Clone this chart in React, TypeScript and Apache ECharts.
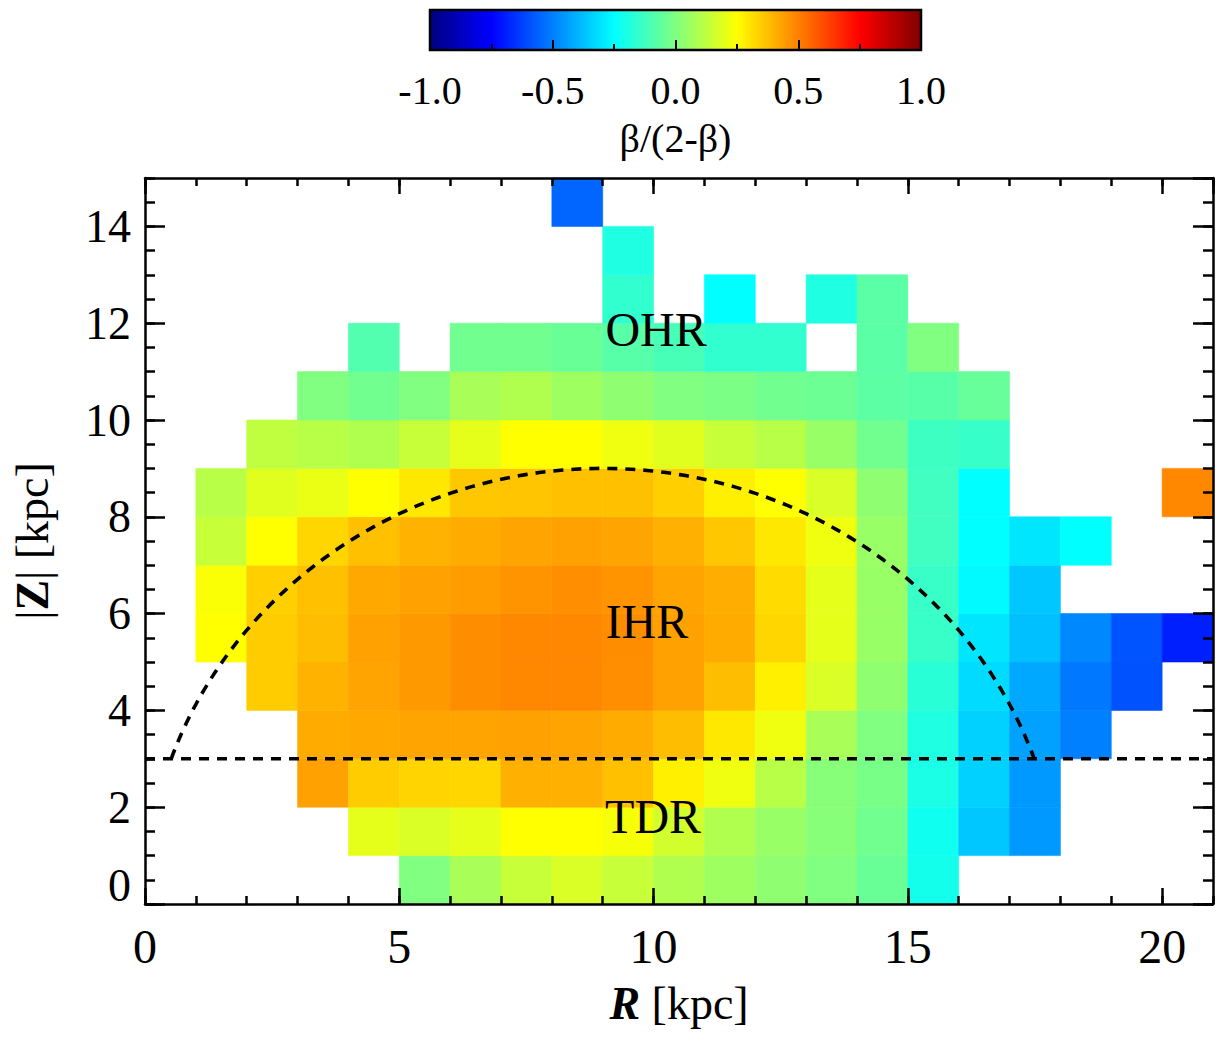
import React, { useEffect, useRef } from "react";
import * as echarts from "echarts";

// ---------- data ----------
// left edges of the 1-kpc R bins and bottom edges of the 1-kpc |Z| bins
const R_BIN_LEFT = [0, 1, 2, 3, 4, 5, 6, 7, 8, 9, 10, 11, 12, 13, 14, 15, 16, 17, 18, 19, 20];
const Z_BIN_BOTTOM = [0, 1, 2, 3, 4, 5, 6, 7, 8, 9, 10, 11, 12, 13, 14];
const BIN = 1;
const _ = null;

// beta/(2-beta) per R bin (21 columns), one array per |Z| row
const ROW_Z0 = [_, _, _, _, _, 0.0, 0.08, 0.14, 0.175, 0.14, 0.095, 0.06, 0.03, 0.0, -0.045, -0.21, _, _, _, _, _];
const ROW_Z1 = [_, _, _, _, 0.2, 0.175, 0.2, 0.25, 0.25, 0.235, 0.16, 0.095, 0.05, 0.015, -0.03, -0.22, -0.36, -0.45, _, _, _];
const ROW_Z2 = [_, _, _, 0.435, 0.35, 0.335, 0.33, 0.405, 0.405, 0.375, 0.28, 0.22, 0.11, 0.015, -0.015, -0.2, -0.34, -0.45, _, _, _];
const ROW_Z3 = [_, _, _, 0.415, 0.42, 0.43, 0.43, 0.435, 0.43, 0.415, 0.38, 0.295, 0.22, 0.08, 0.0, -0.19, -0.34, -0.435, -0.5, _, _];
const ROW_Z4 = [_, _, 0.35, 0.4, 0.43, 0.45, 0.475, 0.485, 0.485, 0.47, 0.435, 0.38, 0.28, 0.175, 0.03, -0.17, -0.32, -0.42, -0.515, -0.59, _];
const ROW_Z5 = [_, 0.25, 0.35, 0.38, 0.435, 0.45, 0.475, 0.485, 0.485, 0.475, 0.435, 0.415, 0.33, 0.2, 0.05, -0.14, -0.3, -0.375, -0.485, -0.585, -0.69];
const ROW_Z6 = [_, 0.24, 0.345, 0.375, 0.42, 0.435, 0.445, 0.46, 0.47, 0.46, 0.43, 0.41, 0.32, 0.2, 0.05, -0.14, -0.26, -0.36, _, _, _];
const ROW_Z7 = [_, 0.14, 0.25, 0.33, 0.375, 0.4, 0.415, 0.43, 0.435, 0.43, 0.405, 0.36, 0.295, 0.22, 0.05, -0.125, -0.25, -0.3, -0.25, _, _];
const ROW_Z8 = [_, 0.11, 0.19, 0.21, 0.25, 0.295, 0.36, 0.365, 0.375, 0.375, 0.345, 0.28, 0.25, 0.175, 0.03, -0.125, -0.25, _, _, _, 0.485];
const ROW_Z9 = [_, _, 0.125, 0.11, 0.095, 0.14, 0.2, 0.25, 0.25, 0.22, 0.19, 0.14, 0.11, 0.05, -0.03, -0.13, -0.145, _, _, _, _];
const ROW_Z10 = [_, _, _, 0.0, -0.03, 0.0, 0.08, 0.095, 0.06, 0.03, 0.0, -0.01, -0.03, -0.04, -0.07, -0.08, -0.05, _, _, _, _];
const ROW_Z11 = [_, _, _, _, -0.09, _, -0.03, -0.03, -0.045, -0.08, -0.11, -0.155, -0.155, _, -0.075, 0.0, _, _, _, _, _];
const ROW_Z12 = [_, _, _, _, _, _, _, _, _, -0.155, _, -0.25, _, -0.19, -0.075, _, _, _, _, _, _];
const ROW_Z13 = [_, _, _, _, _, _, _, _, _, -0.19, _, _, _, _, _, _, _, _, _, _, _];
const ROW_Z14 = [_, _, _, _, _, _, _, _, -0.55, _, _, _, _, _, _, _, _, _, _, _, _];
const BETA_ROWS = [ROW_Z0, ROW_Z1, ROW_Z2, ROW_Z3, ROW_Z4, ROW_Z5, ROW_Z6, ROW_Z7, ROW_Z8, ROW_Z9, ROW_Z10, ROW_Z11, ROW_Z12, ROW_Z13, ROW_Z14];

// region boundaries: disk/halo at |Z| = 3 kpc, inner/outer halo circle centred at (R=9, Z=0), radius 9 kpc
const DISK_Z = 3;
const DIVIDE_CENTER_R = 9;
const DIVIDE_RADIUS = 9;

// region labels
const REGION_NAMES = ["OHR", "IHR", "TDR"];
const REGION_R = [10.05, 9.87, 9.99];
const REGION_Z = [11.86, 5.83, 1.8];

// axes
const R_RANGE = [0, 21];
const Z_RANGE = [0, 15];
const CB_RANGE = [-1, 1];

// jet colour table, evenly spaced stops
const JET = ["#000080", "#0000ff", "#0080ff", "#00ffff", "#80ff80", "#ffff00", "#ff8000", "#ff0000", "#800000"];

const FONT = "Liberation Serif";

export default function App() {
  const ref = useRef<HTMLDivElement>(null);
  useEffect(() => {
    if (!ref.current) return;
    const chart = echarts.init(ref.current, null, { renderer: "svg" });

    const cells: number[][] = [];
    BETA_ROWS.forEach((row, j) => {
      row.forEach((v, c) => {
        if (v !== null && v !== undefined) cells.push([R_BIN_LEFT[c], Z_BIN_BOTTOM[j], v as number]);
      });
    });

    const t0 = Math.asin(DISK_Z / DIVIDE_RADIUS);
    const arc: number[][] = [];
    const N = 160;
    for (let i = 0; i <= N; i++) {
      const t = t0 + ((Math.PI - 2 * t0) * i) / N;
      arc.push([DIVIDE_CENTER_R - DIVIDE_RADIUS * Math.cos(t), DIVIDE_RADIUS * Math.sin(t)]);
    }
    const diskLine = [[R_RANGE[0], DISK_Z], [R_RANGE[1], DISK_Z]];
    const labels = REGION_NAMES.map((n, i) => [REGION_R[i], REGION_Z[i], n]);

    const AX = { color: "#000", width: 2.5 };
    const DASH = { color: "#000", width: 3.6, type: [10, 8] };
    const tickAxis = (extra: any) => ({
      type: "value",
      axisLine: { show: false, onZero: false },
      splitLine: { show: false },
      axisLabel: { show: false },
      z: 6,
      ...extra,
    });

    const jetStops = JET.map((c, i) => ({ offset: i / (JET.length - 1), color: c }));

    chart.setOption({
      animation: false,
      backgroundColor: "#fff",
      grid: [
        { left: 145, top: 178, width: 1068, height: 726 },
        { left: 430, top: 10, width: 491, height: 40 },
      ],
      visualMap: {
        type: "continuous",
        show: false,
        min: CB_RANGE[0],
        max: CB_RANGE[1],
        dimension: 2,
        seriesIndex: 0,
        inRange: { color: JET },
      },
      xAxis: [
        {
          type: "value",
          gridIndex: 0,
          position: "bottom",
          min: R_RANGE[0],
          max: R_RANGE[1],
          interval: 5,
          axisLine: { show: true, onZero: false, lineStyle: AX },
          axisTick: { inside: true, length: 16, lineStyle: AX },
          splitLine: { show: false },
          axisLabel: { margin: 18, fontSize: 48, fontFamily: FONT, color: "#000", showMaxLabel: false },
          name: "{bi|R} [kpc]",
          nameLocation: "middle",
          nameGap: 76,
          nameTextStyle: {
            fontSize: 46,
            fontFamily: FONT,
            color: "#000",
            rich: { bi: { fontSize: 46, fontFamily: FONT, fontWeight: "bold", fontStyle: "italic", color: "#000" } },
          },
          z: 6,
        },
        tickAxis({ gridIndex: 0, position: "bottom", min: R_RANGE[0], max: R_RANGE[1], interval: 1, axisTick: { inside: true, length: 8, lineStyle: AX } }),
        {
          type: "value",
          gridIndex: 0,
          position: "top",
          min: R_RANGE[0],
          max: R_RANGE[1],
          interval: 5,
          axisLine: { show: true, onZero: false, lineStyle: AX },
          axisTick: { inside: true, length: 16, lineStyle: AX },
          splitLine: { show: false },
          axisLabel: { show: false },
          z: 6,
        },
        tickAxis({ gridIndex: 0, position: "top", min: R_RANGE[0], max: R_RANGE[1], interval: 1, axisTick: { inside: true, length: 8, lineStyle: AX } }),
        {
          type: "value",
          gridIndex: 1,
          position: "bottom",
          min: CB_RANGE[0],
          max: CB_RANGE[1],
          interval: 0.5,
          axisLine: { show: false, onZero: false },
          axisTick: { inside: true, length: 10, lineStyle: { color: "#000", width: 2 } },
          splitLine: { show: false },
          axisLabel: {
            margin: 20,
            fontSize: 40,
            fontFamily: FONT,
            color: "#000",
            formatter: (v: number) => v.toFixed(1),
          },
          name: "β/(2-β)",
          nameLocation: "middle",
          nameGap: 68,
          nameTextStyle: { fontSize: 40, fontFamily: FONT, color: "#000" },
          z: 6,
        },
        tickAxis({ gridIndex: 1, position: "bottom", min: CB_RANGE[0], max: CB_RANGE[1], interval: 0.25, axisTick: { inside: true, length: 6, lineStyle: { color: "#000", width: 2 } } }),
      ],
      yAxis: [
        {
          type: "value",
          gridIndex: 0,
          position: "left",
          min: Z_RANGE[0],
          max: Z_RANGE[1],
          interval: 2,
          axisLine: { show: true, onZero: false, lineStyle: AX },
          axisTick: { inside: true, length: 20, lineStyle: AX },
          splitLine: { show: false },
          axisLabel: {
            margin: 14,
            fontSize: 46,
            fontFamily: FONT,
            color: "#000",
            showMaxLabel: false,
            formatter: (v: number) => (v === 0 ? "{lift|0}" : String(v)),
            rich: { lift: { fontSize: 46, fontFamily: FONT, color: "#000", padding: [0, 0, 38, 0] } },
          },
          name: "|{b|Z}| [kpc]",
          nameLocation: "middle",
          nameRotate: 90,
          nameGap: 90,
          nameTextStyle: {
            fontSize: 46,
            fontFamily: FONT,
            color: "#000",
            rich: { b: { fontSize: 46, fontFamily: FONT, fontWeight: "bold", color: "#000" } },
          },
          z: 6,
        },
        tickAxis({ gridIndex: 0, position: "left", min: Z_RANGE[0], max: Z_RANGE[1], interval: 0.5, axisTick: { inside: true, length: 10, lineStyle: AX } }),
        {
          type: "value",
          gridIndex: 0,
          position: "right",
          min: Z_RANGE[0],
          max: Z_RANGE[1],
          interval: 2,
          axisLine: { show: true, onZero: false, lineStyle: AX },
          axisTick: { inside: true, length: 20, lineStyle: AX },
          splitLine: { show: false },
          axisLabel: { show: false },
          z: 6,
        },
        tickAxis({ gridIndex: 0, position: "right", min: Z_RANGE[0], max: Z_RANGE[1], interval: 0.5, axisTick: { inside: true, length: 10, lineStyle: AX } }),
        { type: "value", gridIndex: 1, min: 0, max: 1, show: false },
      ],
      series: [
        {
          type: "custom",
          name: "beta",
          xAxisIndex: 0,
          yAxisIndex: 0,
          dimensions: ["R", "Z", "beta"],
          encode: { x: 0, y: 1 },
          data: cells,
          z: 2,
          renderItem: (params: any, api: any) => {
            const r0 = api.value(0);
            const z0 = api.value(1);
            const p0 = api.coord([r0, z0 + BIN]);
            const p1 = api.coord([r0 + BIN, z0]);
            const color = api.visual("color");
            return {
              type: "rect",
              shape: { x: p0[0], y: p0[1], width: p1[0] - p0[0], height: p1[1] - p0[1] },
              style: { fill: color, stroke: color, lineWidth: 0.6 },
            };
          },
        },
        {
          type: "line",
          xAxisIndex: 0,
          yAxisIndex: 0,
          data: arc,
          symbol: "none",
          lineStyle: DASH,
          z: 4,
        },
        {
          type: "line",
          xAxisIndex: 0,
          yAxisIndex: 0,
          data: diskLine,
          symbol: "none",
          lineStyle: DASH,
          z: 4,
        },
        {
          type: "custom",
          xAxisIndex: 0,
          yAxisIndex: 0,
          data: labels,
          z: 5,
          renderItem: (params: any, api: any) => {
            const p = api.coord([api.value(0), api.value(1)]);
            return {
              type: "text",
              x: p[0],
              y: p[1],
              style: {
                text: labels[params.dataIndex][2],
                fontSize: 48,
                fontFamily: FONT,
                fill: "#000",
                align: "center",
                verticalAlign: "middle",
              },
            };
          },
        },
        {
          type: "custom",
          xAxisIndex: 4,
          yAxisIndex: 4,
          data: [[CB_RANGE[0], CB_RANGE[1]]],
          z: 2,
          renderItem: (params: any, api: any) => {
            const p0 = api.coord([api.value(0), 1]);
            const p1 = api.coord([api.value(1), 0]);
            return {
              type: "rect",
              shape: { x: p0[0], y: p0[1], width: p1[0] - p0[0], height: p1[1] - p0[1] },
              style: {
                fill: new echarts.graphic.LinearGradient(0, 0, 1, 0, jetStops),
                stroke: "#000",
                lineWidth: 2.5,
              },
            };
          },
        },
      ],
    });
    return () => chart.dispose();
  }, []);

  return (
    <div
      ref={ref}
      style={{ position: "absolute", left: 0, top: 0, width: 1228, height: 1038, background: "#fff" }}
    />
  );
}
